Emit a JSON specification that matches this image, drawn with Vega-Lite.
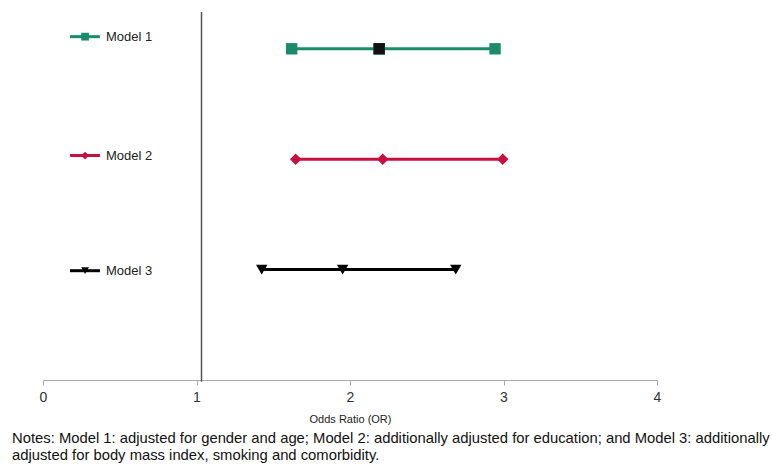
{
  "$schema": "https://vega.github.io/schema/vega-lite/v6.json",
  "width": 614,
  "height": 368,
  "autosize": "none",
  "padding": {"left": 43, "top": 12, "right": 115, "bottom": 85},
  "background": "white",
  "config": {"view": {"stroke": null}, "font": "Liberation Sans"},
  "title": {
    "text": ["Notes: Model 1: adjusted for gender and age; Model 2: additionally adjusted for education; and Model 3: additionally", "adjusted for body mass index, smoking and comorbidity."],
    "orient": "bottom",
    "anchor": "start",
    "frame": "group",
    "dx": -31,
    "offset": 7,
    "fontSize": 14.8,
    "fontWeight": "normal",
    "lineHeight": 17,
    "color": "#111",
    "font": "Liberation Sans"
  },
  "datasets": {
    "pts": [
      {"model": "Model 1", "stat": "lower", "or": 1.62, "y": 9},
      {"model": "Model 1", "stat": "OR", "or": 2.19, "y": 9},
      {"model": "Model 1", "stat": "upper", "or": 2.945, "y": 9},
      {"model": "Model 2", "stat": "lower", "or": 1.646, "y": 6},
      {"model": "Model 2", "stat": "OR", "or": 2.213, "y": 6},
      {"model": "Model 2", "stat": "upper", "or": 2.995, "y": 6},
      {"model": "Model 3", "stat": "lower", "or": 1.425, "y": 3},
      {"model": "Model 3", "stat": "OR", "or": 1.952, "y": 3},
      {"model": "Model 3", "stat": "upper", "or": 2.689, "y": 3}
    ],
    "leg": [
      {"model": "Model 1", "y": 9.33},
      {"model": "Model 2", "y": 6.1},
      {"model": "Model 3", "y": 2.97}
    ],
    "ref": [
      {"or": 1}
    ]
  },
  "encoding": {
    "x": {
      "type": "quantitative",
      "scale": {"domain": [0, 4], "nice": false},
      "axis": {
        "title": "Odds Ratio (OR)",
        "values": [0, 1, 2, 3, 4],
        "format": "d",
        "grid": false,
        "labelFlush": false,
        "domainColor": "#aaaaaa",
        "tickColor": "#aaaaaa",
        "tickSize": 5,
        "labelFontSize": 14,
        "labelColor": "#333",
        "labelPadding": 5,
        "titleFontSize": 11,
        "titleFontWeight": "normal",
        "titleColor": "#222",
        "titlePadding": 9
      }
    },
    "y": {
      "type": "quantitative",
      "scale": {"domain": [0, 10], "nice": false},
      "axis": null
    }
  },
  "layer": [
    {
      "data": {"name": "ref"},
      "mark": {"type": "rule", "color": "#555", "strokeWidth": 1.5, "xOffset": 5},
      "encoding": {"x": {"field": "or"}, "y": {"datum": 10}, "y2": {"datum": -0.05}}
    },
    {
      "data": {"name": "pts"},
      "mark": {"type": "line", "strokeWidth": 3},
      "encoding": {
        "x": {"field": "or"},
        "y": {"field": "y"},
        "detail": {"field": "model"},
        "color": {"field": "model", "type": "nominal", "scale": {"domain": ["Model 1", "Model 2", "Model 3"], "range": ["#1b8c6b", "#c8103f", "#000000"]}, "legend": null}
      }
    },
    {
      "data": {"name": "pts"},
      "mark": {"type": "point", "filled": true, "opacity": 1, "size": 130},
      "encoding": {
        "x": {"field": "or"},
        "y": {"field": "y"},
        "color": {"field": "model", "type": "nominal", "legend": null},
        "shape": {"field": "model", "type": "nominal", "scale": {"domain": ["Model 1", "Model 2", "Model 3"], "range": ["square", "diamond", "triangle-down"]}, "legend": null}
      }
    },
    {
      "data": {"name": "pts"},
      "transform": [{"filter": "datum.model === 'Model 1' && datum.stat === 'OR'"}],
      "mark": {"type": "point", "filled": true, "opacity": 1, "size": 130, "shape": "square", "color": "#111"},
      "encoding": {"x": {"field": "or"}, "y": {"field": "y"}}
    },
    {
      "data": {"name": "leg"},
      "mark": {"type": "rule", "strokeWidth": 3},
      "encoding": {
        "x": {"datum": 0.176},
        "x2": {"datum": 0.371},
        "y": {"field": "y"},
        "color": {"field": "model", "type": "nominal", "legend": null}
      }
    },
    {
      "data": {"name": "leg"},
      "mark": {"type": "point", "filled": true, "opacity": 1, "size": 60},
      "encoding": {
        "x": {"datum": 0.274},
        "y": {"field": "y"},
        "color": {"field": "model", "type": "nominal", "legend": null},
        "shape": {"field": "model", "type": "nominal", "legend": null}
      }
    },
    {
      "data": {"name": "leg"},
      "mark": {"type": "text", "align": "left", "baseline": "middle", "fontSize": 13, "color": "#222"},
      "encoding": {
        "x": {"datum": 0.41},
        "y": {"field": "y"},
        "text": {"field": "model"}
      }
    }
  ]
}
